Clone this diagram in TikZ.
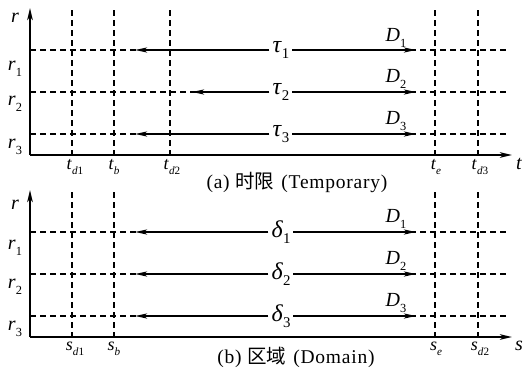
\documentclass[tikz,border=0pt]{standalone}
\usepackage{graphicx}
\usepackage{fontspec}
\setmainfont{Liberation Serif}
\newfontfamily\cjk{Noto Sans CJK SC}
\newfontfamily\capfont[LetterSpace=4]{Liberation Serif}
\usetikzlibrary{arrows.meta, positioning}

\newcommand{\vsub}[2]{\textit{#1}\raisebox{-0.6ex}{\scalebox{0.62}{#2}}}

\begin{document}
\begin{tikzpicture}[x=1pt, y=-1pt,
            axis/.style={line width=1.8pt, -{Stealth[length=12pt, width=5.5pt, inset=3pt]}},
            grid/.style={line width=1.4pt, dash pattern=on 6pt off 4pt},
            spanline/.style={line width=1.8pt, -{Stealth[length=12pt, width=5pt, inset=3pt]}},
            lbl/.style={inner sep=1pt, font=\fontsize{20}{22}\selectfont},
            sym/.style={fill=white, inner sep=3pt, font=\fontsize{24}{26}\selectfont},
            tick/.style={inner sep=0pt, font=\fontsize{18}{20}\selectfont},
            caption/.style={inner sep=0pt, font=\capfont\fontsize{19.5}{21}\selectfont}
        ]
        \useasboundingbox (0,0) rectangle (523,368);

        % (a) time limit
        \coordinate (O1) at (30,155);
        \coordinate (Y1) at (30,8);
        \coordinate (X1) at (512,155);

        \coordinate (A1) at (30,50);  \coordinate (B1) at (507,50);
        \coordinate (A2) at (30,92);  \coordinate (B2) at (507,92);
        \coordinate (A3) at (30,134); \coordinate (B3) at (507,134);

        \coordinate (Vd1) at (72,10);
        \coordinate (Vb) at (114,10);
        \coordinate (Vd2) at (170,10);
        \coordinate (Ve) at (435,10);
        \coordinate (Vd3) at (478,10);

        \draw[grid] (A1) -- (B1);
        \draw[grid] (A2) -- (B2);
        \draw[grid] (A3) -- (B3);
        \draw[grid] (Vd1) -- (Vd1 |- O1);
        \draw[grid] (Vb) -- (Vb |- O1);
        \draw[grid] (Vd2) -- (Vd2 |- O1);
        \draw[grid] (Ve) -- (Ve |- O1);
        \draw[grid] (Vd3) -- (Vd3 |- O1);

        \draw[axis] (O1) -- (Y1);
        \draw[axis] (O1) -- (X1);

        \node[sym] (tau1) at (281,50) {\vsub{τ}{1}};
        \node[sym] (tau2) at (281,92) {\vsub{τ}{2}};
        \node[sym] (tau3) at (281,134) {\vsub{τ}{3}};

        \coordinate (L1) at (135,50);  \coordinate (R1) at (416,50);
        \coordinate (L2) at (192,92);  \coordinate (R2) at (416,92);
        \coordinate (L3) at (135,134); \coordinate (R3) at (416,134);

        \draw[spanline] (tau1) -- (L1);
        \draw[spanline] (tau1) -- (R1);
        \draw[spanline] (tau2) -- (L2);
        \draw[spanline] (tau2) -- (R2);
        \draw[spanline] (tau3) -- (L3);
        \draw[spanline] (tau3) -- (R3);

        \node[lbl] (D1a) at (396,38) {\vsub{D}{1}};
        \node[lbl] (D2a) at (396,79) {\vsub{D}{2}};
        \node[lbl] (D3a) at (396,121) {\vsub{D}{3}};

        \node[lbl] (ra) at (15,18) {\textit{r}};
        \node[lbl] (r1a) at (15,69) {\vsub{r}{1}};
        \node[lbl] (r2a) at (15,104) {\vsub{r}{2}};
        \node[lbl] (r3a) at (15,147) {\vsub{r}{3}};

        \node[tick] (td1) at (75,167) {\vsub{t}{\textit{d}1}};
        \node[tick] (tb) at (114,167) {\vsub{t}{\textit{b}}};
        \node[tick] (td2) at (172,167) {\vsub{t}{\textit{d}2}};
        \node[tick] (te) at (436,167) {\vsub{t}{\textit{e}}};
        \node[tick] (td3) at (480,167) {\vsub{t}{\textit{d}3}};
        \node[lbl] (t) at (519,164) {\textit{t}};

        \node[caption] (capa) at (297,182) {(a) {\cjk 时限}\hspace{7pt}(Temporary)};

        % (b) domain
        \coordinate (O2) at (30,337);
        \coordinate (Y2) at (30,190);
        \coordinate (X2) at (512,337);

        \coordinate (C1) at (30,232);  \coordinate (E1) at (507,232);
        \coordinate (C2) at (30,274);  \coordinate (E2) at (507,274);
        \coordinate (C3) at (30,316);  \coordinate (E3) at (507,316);

        \coordinate (Wd1) at (72,192);
        \coordinate (Wb) at (114,192);
        \coordinate (We) at (435,192);
        \coordinate (Wd2) at (478,192);

        \draw[grid] (C1) -- (E1);
        \draw[grid] (C2) -- (E2);
        \draw[grid] (C3) -- (E3);
        \draw[grid] (Wd1) -- (Wd1 |- O2);
        \draw[grid] (Wb) -- (Wb |- O2);
        \draw[grid] (We) -- (We |- O2);
        \draw[grid] (Wd2) -- (Wd2 |- O2);

        \draw[axis] (O2) -- (Y2);
        \draw[axis] (O2) -- (X2);

        \node[sym] (del1) at (281,232) {\vsub{δ}{1}};
        \node[sym] (del2) at (281,274) {\vsub{δ}{2}};
        \node[sym] (del3) at (281,316) {\vsub{δ}{3}};

        \coordinate (P1) at (135,232); \coordinate (Q1) at (416,232);
        \coordinate (P2) at (135,274); \coordinate (Q2) at (416,274);
        \coordinate (P3) at (135,316); \coordinate (Q3) at (416,316);

        \draw[spanline] (del1) -- (P1);
        \draw[spanline] (del1) -- (Q1);
        \draw[spanline] (del2) -- (P2);
        \draw[spanline] (del2) -- (Q2);
        \draw[spanline] (del3) -- (P3);
        \draw[spanline] (del3) -- (Q3);

        \node[lbl] (D1b) at (396,219) {\vsub{D}{1}};
        \node[lbl] (D2b) at (396,261) {\vsub{D}{2}};
        \node[lbl] (D3b) at (396,303) {\vsub{D}{3}};

        \node[lbl] (rb) at (15,205) {\textit{r}};
        \node[lbl] (r1b) at (15,248) {\vsub{r}{1}};
        \node[lbl] (r2b) at (15,287) {\vsub{r}{2}};
        \node[lbl] (r3b) at (15,329) {\vsub{r}{3}};

        \node[tick] (sd1) at (75,349) {\vsub{s}{\textit{d}1}};
        \node[tick] (sb) at (114,349) {\vsub{s}{\textit{b}}};
        \node[tick] (se) at (436,349) {\vsub{s}{\textit{e}}};
        \node[tick] (sd2) at (480,349) {\vsub{s}{\textit{d}2}};
        \node[lbl] (s) at (519,346) {\textit{s}};

        \node[caption] (capb) at (296,357) {(b) {\cjk 区域}\hspace{7pt}(Domain)};

        \end{tikzpicture}
\end{document}
